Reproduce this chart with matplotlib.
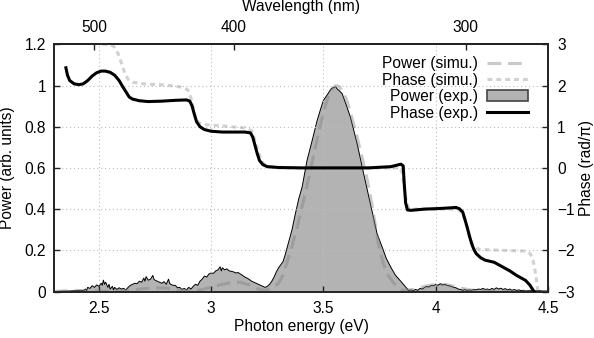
import matplotlib
matplotlib.use("Agg")
import matplotlib.pyplot as plt
from matplotlib.patches import Patch
from matplotlib.lines import Line2D
import numpy as np

plt.rcParams['font.family'] = ['Liberation Sans', 'DejaVu Sans']
plt.rcParams['font.size'] = 11.2

# ---------------- data ----------------
# Experimental power spectrum (arb. units)
exp_E = [2.30, 2.32, 2.34, 2.36, 2.38, 2.40, 2.42, 2.43, 2.44, 2.445, 2.45, 2.46, 2.47, 2.48, 2.49,
         2.50, 2.51, 2.515, 2.52, 2.525, 2.53, 2.54, 2.545, 2.55, 2.56, 2.565, 2.57, 2.58, 2.59,
         2.60, 2.61, 2.62, 2.63, 2.64, 2.65, 2.66, 2.67, 2.68, 2.69, 2.70, 2.705, 2.71, 2.72,
         2.73, 2.74, 2.745, 2.75, 2.76, 2.77, 2.78, 2.79, 2.80, 2.81, 2.815, 2.82, 2.83, 2.84,
         2.85, 2.86, 2.87, 2.88, 2.89, 2.90, 2.91, 2.92, 2.93, 2.94, 2.95, 2.96, 2.97, 2.98,
         2.99, 3.00, 3.01, 3.02, 3.03, 3.04, 3.045, 3.05, 3.06, 3.07, 3.08, 3.09, 3.10, 3.11,
         3.12, 3.13, 3.14, 3.15, 3.16, 3.17, 3.18, 3.19, 3.20, 3.21, 3.22, 3.23, 3.24, 3.25,
         3.26, 3.27, 3.28, 3.29, 3.30, 3.31, 3.32, 3.33, 3.34, 3.35, 3.36, 3.375, 3.39, 3.405,
         3.427, 3.45, 3.472, 3.49, 3.50, 3.52, 3.535, 3.545, 3.554, 3.56, 3.57, 3.583, 3.60,
         3.62, 3.65, 3.679, 3.709, 3.739, 3.76, 3.78, 3.80, 3.82, 3.84, 3.86, 3.875, 3.88,
         3.89, 3.90, 3.91, 3.92, 3.93, 3.94, 3.95, 3.96, 3.97, 3.98, 3.99, 4.00, 4.01, 4.02,
         4.03, 4.04, 4.05, 4.06, 4.07, 4.08, 4.09, 4.10, 4.11, 4.12, 4.13, 4.14, 4.15, 4.16,
         4.17, 4.18, 4.19, 4.20, 4.21, 4.22, 4.23, 4.24, 4.25, 4.26, 4.27, 4.28, 4.29, 4.30,
         4.31, 4.32, 4.33, 4.34, 4.35, 4.36, 4.37, 4.38, 4.39, 4.40, 4.42, 4.44, 4.46, 4.48, 4.50]
exp_P = [0.0, 0.001, 0.002, 0.002, 0.003, 0.004, 0.006, 0.004, 0.012, 0.004, 0.02, 0.015, 0.028, 0.02, 0.032,
         0.025, 0.04, 0.03, 0.055, 0.035, 0.045, 0.02, 0.035, 0.012, 0.025, 0.008, 0.02, 0.01, 0.018,
         0.012, 0.015, 0.008, 0.02, 0.03, 0.035, 0.04, 0.038, 0.05, 0.045, 0.065, 0.05, 0.072, 0.055,
         0.06, 0.078, 0.06, 0.055, 0.05, 0.045, 0.04, 0.048, 0.035, 0.06, 0.04, 0.035, 0.03, 0.03,
         0.018, 0.02, 0.01, 0.015, 0.008, 0.02, 0.012, 0.025, 0.035, 0.03, 0.05, 0.06, 0.075, 0.07,
         0.085, 0.09, 0.088, 0.1, 0.105, 0.12, 0.1, 0.115, 0.105, 0.11, 0.1, 0.098, 0.095, 0.09,
         0.092, 0.085, 0.078, 0.07, 0.065, 0.058, 0.05, 0.045, 0.04, 0.035, 0.03, 0.025, 0.02, 0.025,
         0.035, 0.05, 0.07, 0.095, 0.115, 0.13, 0.145, 0.18, 0.22, 0.26, 0.3, 0.378, 0.45, 0.507,
         0.637, 0.734, 0.831, 0.895, 0.928, 0.96, 0.985, 0.99, 0.995, 0.985, 0.975, 0.961, 0.91,
         0.847, 0.718, 0.572, 0.426, 0.28, 0.22, 0.16, 0.118, 0.08, 0.055, 0.03, 0.01, 0.005,
         0.008, 0.004, 0.01, 0.006, 0.015, 0.012, 0.02, 0.025, 0.022, 0.03, 0.028, 0.035, 0.03, 0.038,
         0.032, 0.035, 0.03, 0.028, 0.025, 0.02, 0.018, 0.012, 0.01, 0.006, 0.01, 0.005, 0.008, 0.006,
         0.01, 0.008, 0.012, 0.01, 0.015, 0.01, 0.012, 0.008, 0.015, 0.01, 0.018, 0.012, 0.016, 0.01,
         0.014, 0.008, 0.012, 0.006, 0.01, 0.005, 0.008, 0.004, 0.006, 0.003, 0.005, 0.003, 0.004, 0.002, 0.002]

# Simulated power spectrum
sim_E = [2.30, 2.35, 2.40, 2.45, 2.50, 2.60, 2.65, 2.70, 2.75, 2.80, 2.85, 2.90, 2.95, 3.00, 3.05,
         3.10, 3.13, 3.17, 3.21, 3.24, 3.27, 3.30, 3.32, 3.34, 3.36, 3.38, 3.40, 3.42, 3.44, 3.46,
         3.48, 3.50, 3.52, 3.54, 3.555, 3.57, 3.59, 3.61, 3.63, 3.65, 3.67, 3.69, 3.71, 3.73, 3.75,
         3.77, 3.79, 3.81, 3.83, 3.85, 3.90, 3.95, 4.00, 4.05, 4.10, 4.15, 4.20, 4.30, 4.50]
sim_P = [0.0, 0.003, 0.005, 0.003, 0.002, 0.003, 0.008, 0.014, 0.018, 0.016, 0.008, 0.004, 0.008, 0.02, 0.035,
         0.045, 0.045, 0.032, 0.012, 0.006, 0.015, 0.04, 0.08, 0.15, 0.22, 0.30, 0.39, 0.48, 0.58, 0.68,
         0.78, 0.87, 0.94, 0.985, 1.0, 0.995, 0.965, 0.91, 0.83, 0.75, 0.66, 0.57, 0.46, 0.33, 0.20,
         0.125, 0.075, 0.045, 0.02, 0.006, 0.01, 0.025, 0.035, 0.033, 0.02, 0.008, 0.003, 0.001, 0.0]

# Experimental phase (rad/pi)
phx_E = [2.353, 2.36, 2.37, 2.39, 2.411, 2.43, 2.45, 2.47, 2.49, 2.51, 2.528, 2.55, 2.57, 2.59, 2.605,
         2.62, 2.635, 2.65, 2.68, 2.72, 2.78, 2.84, 2.89, 2.905, 2.915, 2.925, 2.935, 2.95, 2.97,
         3.00, 3.05, 3.10, 3.15, 3.175, 3.185, 3.195, 3.205, 3.215, 3.23, 3.25, 3.30, 3.40, 3.50,
         3.60, 3.70, 3.80, 3.845, 3.855, 3.86, 3.866, 3.874, 3.89, 3.95, 4.00, 4.05, 4.09, 4.105,
         4.12, 4.13, 4.14, 4.15, 4.16, 4.17, 4.18, 4.20, 4.22, 4.26, 4.30, 4.33, 4.36, 4.40, 4.42,
         4.435, 4.445]
phx_F = [2.43, 2.25, 2.12, 2.04, 2.02, 2.04, 2.12, 2.23, 2.31, 2.35, 2.35, 2.32, 2.25, 2.12, 1.98,
         1.85, 1.72, 1.67, 1.63, 1.61, 1.62, 1.64, 1.65, 1.62, 1.50, 1.30, 1.12, 1.00, 0.93,
         0.89, 0.87, 0.87, 0.87, 0.85, 0.75, 0.55, 0.35, 0.18, 0.08, 0.03, 0.01, 0.0, 0.0,
         0.0, 0.0, 0.03, 0.09, 0.05, -0.4, -0.85, -1.02, -1.03, -1.0, -0.99, -0.975, -0.96, -0.99,
         -1.07, -1.25, -1.44, -1.65, -1.84, -1.98, -2.08, -2.18, -2.24, -2.29, -2.41, -2.50, -2.61, -2.73, -2.85,
         -2.98, -3.05]

# Simulated phase (rad/pi)
phs_E = [2.515, 2.54, 2.56, 2.57, 2.585, 2.60, 2.615, 2.63, 2.65, 2.70, 2.80, 2.87, 2.895, 2.91,
         2.92, 2.93, 2.945, 2.97, 3.05, 3.15, 3.18, 3.19, 3.20, 3.215, 3.23, 3.25, 3.30, 3.84,
         3.85, 3.86, 3.87, 3.88, 3.90, 4.10, 4.12, 4.135, 4.15, 4.165, 4.18, 4.20, 4.30, 4.40,
         4.42, 4.43, 4.44, 4.448, 4.455, 4.46]
phs_F = [3.0, 3.0, 2.97, 2.92, 2.78, 2.55, 2.30, 2.15, 2.08, 2.04, 2.01, 1.96, 1.90, 1.70,
         1.45, 1.22, 1.10, 1.05, 1.02, 0.97, 0.90, 0.75, 0.55, 0.30, 0.12, 0.04, 0.0, 0.0,
         -0.1, -0.5, -0.85, -0.97, -1.0, -1.0, -1.1, -1.35, -1.65, -1.85, -1.95, -1.98, -2.0, -2.02,
         -2.08, -2.17, -2.40, -2.7, -3.0, -3.2]

x_ticks = [2.5, 3, 3.5, 4, 4.5]
y_ticks = [0, 0.2, 0.4, 0.6, 0.8, 1.0, 1.2]
y2_ticks = [-3, -2, -1, 0, 1, 2, 3]
wl_ticks = [500, 400, 300]

labels = ["Power (simu.)", "Phase (simu.)", "Power (exp.)", "Phase (exp.)"]

# ---------------- figure ----------------
fig = plt.figure(figsize=(5.94, 3.38), dpi=100)
ax = fig.add_axes([54/594, 1-291.5/338, 494/594, 247.2/338])
ax2 = ax.twinx()

fill_col = '#b3b3b3'
sim_col = (0.5, 0.5, 0.5, 0.42)
phs_col = (0.55, 0.55, 0.55, 0.4)

ax.fill_between(exp_E, 0, exp_P, facecolor=fill_col, edgecolor='none', zorder=0.3)
ax.plot(exp_E, exp_P, color='black', lw=0.7, zorder=0.35)
ax.plot(sim_E, sim_P, color=sim_col, lw=2.2, linestyle=(0, (4.5, 2.2)), dash_capstyle='butt', zorder=2)

ax2.plot(phs_E, phs_F, color=phs_col, lw=2.2, linestyle=(0, (1.6, 1.3)), dash_capstyle='butt', zorder=2)
ax2.plot(phx_E, phx_F, color='black', lw=2.2, zorder=3)

ax.set_xlim(2.3, 4.5)
ax.set_ylim(0, 1.2)
ax2.set_ylim(-3, 3)

ax.set_xticks(x_ticks)
ax.set_xticklabels(['%g' % v for v in x_ticks])
ax.set_yticks(y_ticks)
ax.set_yticklabels(['%g' % v for v in y_ticks])
ax2.set_yticks(y2_ticks)
ax2.set_yticklabels([('\u2212%d' % -v) if v < 0 else '%d' % v for v in y2_ticks])

ax.grid(True, color='#bdbdbd', lw=0.8, linestyle=(0, (1, 2.5)))
ax.set_axisbelow(True)

for a in (ax, ax2):
    for s in a.spines.values():
        s.set_linewidth(1.2)
        s.set_color('#222222')

ax.tick_params(axis='x', which='both', direction='in', length=4, width=1, pad=7, top=False, colors='#222222', labelcolor='black')
ax.tick_params(axis='y', which='both', direction='in', length=4, width=1, pad=5.5, right=False, colors='#222222', labelcolor='black')
ax2.tick_params(axis='y', direction='in', length=4, width=1, pad=6.5, colors='#222222', labelcolor='black')

secax = ax.secondary_xaxis('top', functions=(lambda e: 1239.84 / np.asarray(e, float),
                                             lambda l: 1239.84 / np.asarray(l, float)))
secax.set_xticks(wl_ticks)
secax.set_xticklabels(['%d' % v for v in wl_ticks])
secax.tick_params(direction='in', length=4, width=1, pad=6.5, colors='#222222', labelcolor='black')
secax.spines['top'].set_linewidth(1.2)
secax.spines['top'].set_color('#222222')

fig.text((54 + 548) / 2 / 594, 1 - 10.5 / 338, 'Wavelength (nm)', ha='center', va='baseline')

ax.set_xlabel('Photon energy (eV)')
ax.xaxis.set_label_coords(0.5, -(319.0 - 291.5) / 247.2)
ax.set_ylabel('Power (arb. units)')
ax.yaxis.set_label_coords((15 - 54) / 494, 0.5)
ax2.set_ylabel('Phase (rad/\u03c0)')
ax2.yaxis.set_label_coords((579 - 54) / 494, 0.5)

handles = [
    Line2D([], [], color=sim_col, lw=2.2, linestyle=(0, (4.5, 2.2)), dash_capstyle='butt'),
    Line2D([], [], color=phs_col, lw=2.2, linestyle=(0, (1.6, 1.3)), dash_capstyle='butt'),
    Patch(facecolor=fill_col, edgecolor='#444444', lw=1.2),
    Line2D([], [], color='black', lw=2.2),
]
leg = ax2.legend(handles, labels, loc='upper right', markerfirst=False, frameon=False,
                 handlelength=2.6, handletextpad=0.6, labelspacing=0.1,
                 borderaxespad=0.0, bbox_to_anchor=((534 - 54) / 494, 1 - (50 - 44.3) / 247.2))

fig.savefig('out.png', dpi=100)
